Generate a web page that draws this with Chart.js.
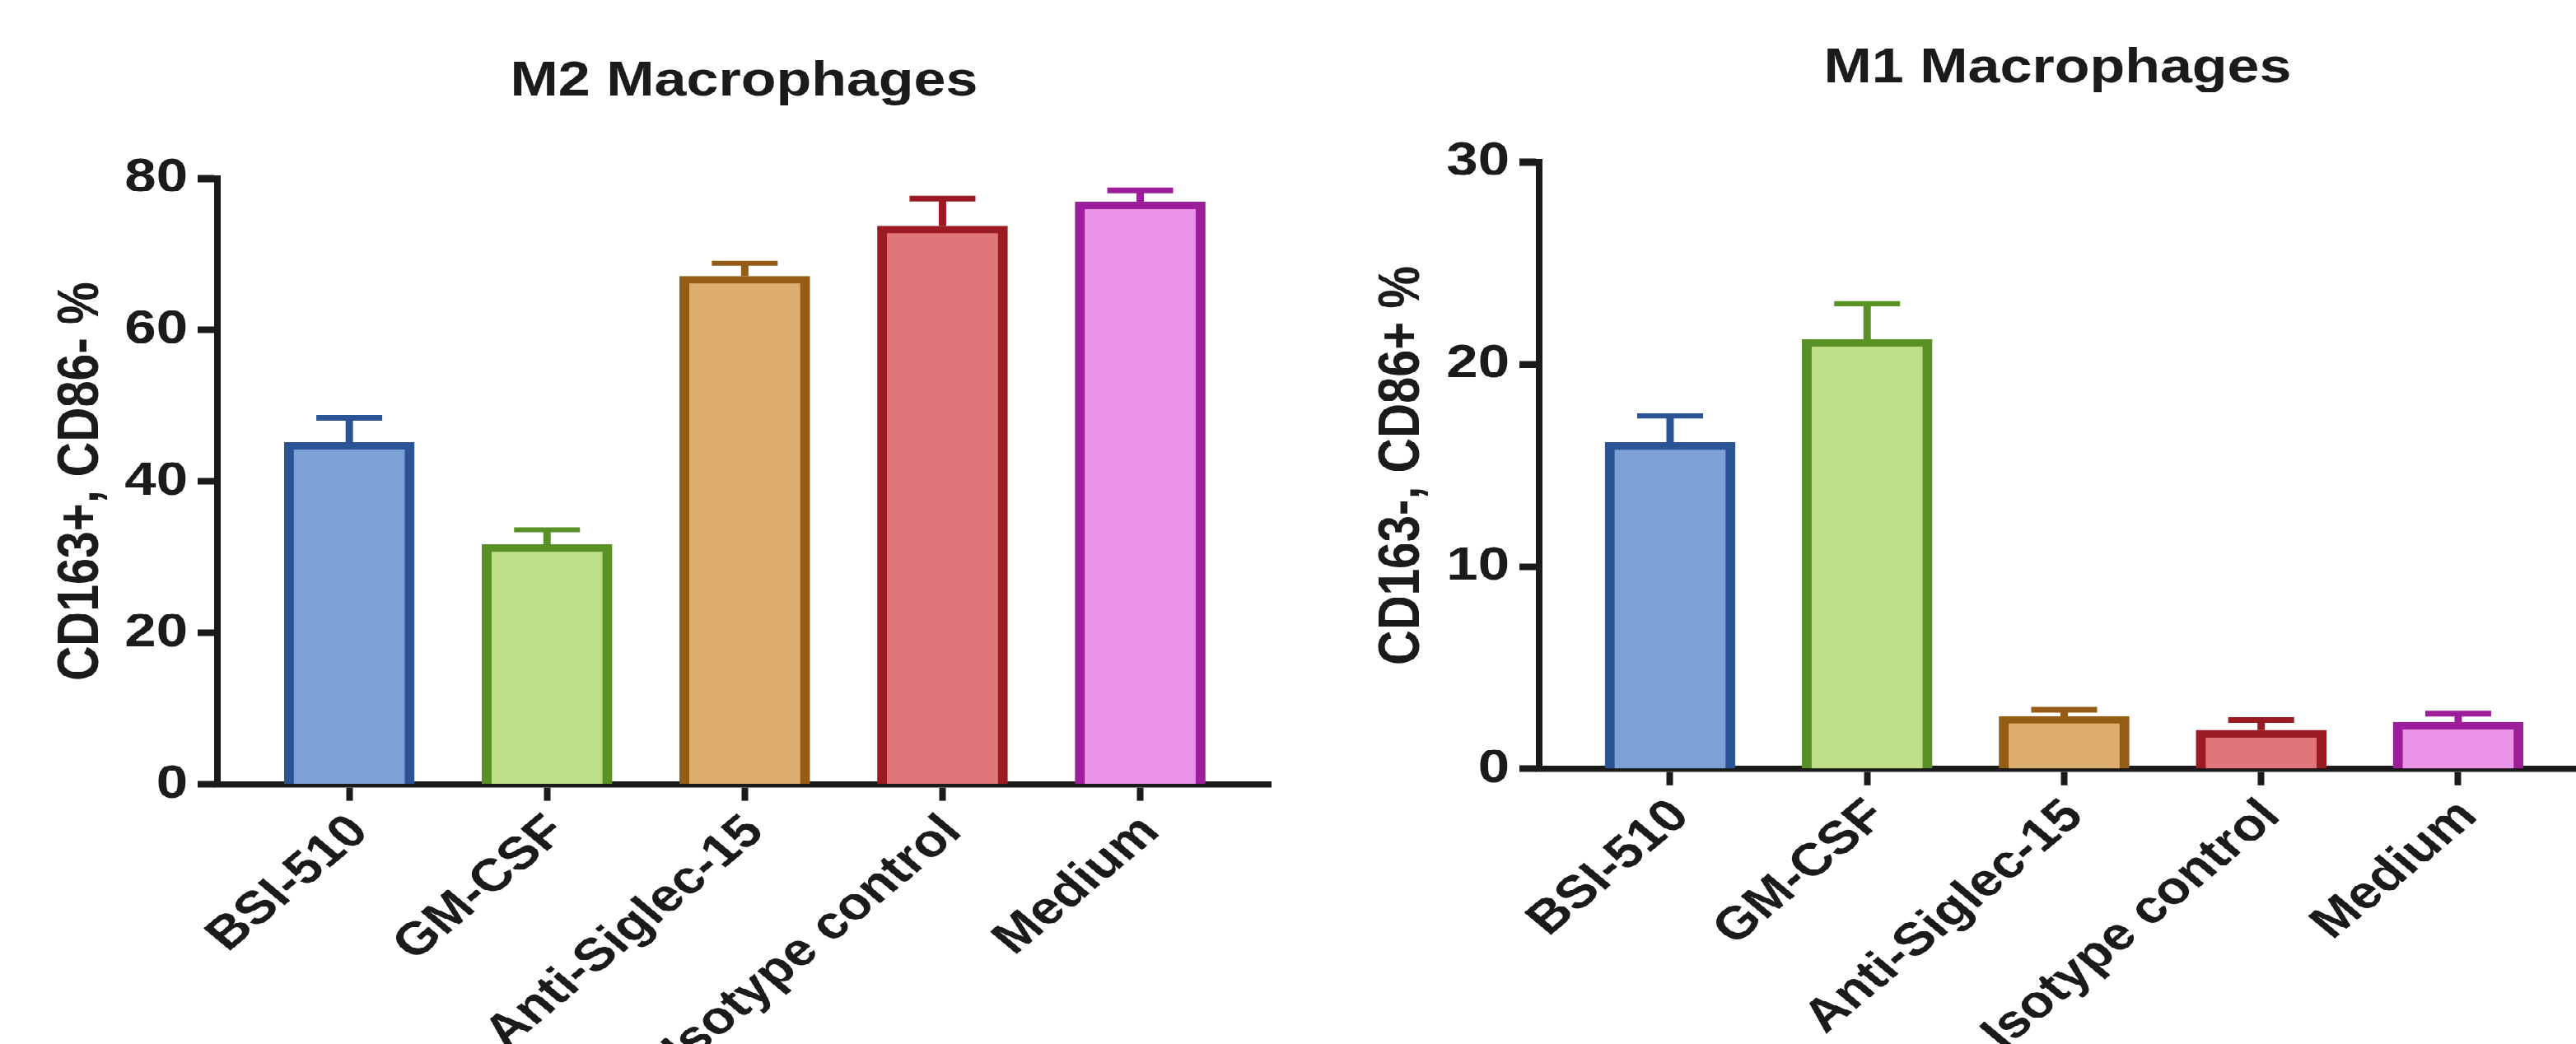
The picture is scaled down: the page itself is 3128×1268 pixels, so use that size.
<!DOCTYPE html>
<html><head><meta charset="utf-8">
<script src="https://cdn.jsdelivr.net/npm/chart.js@4.4.1/dist/chart.umd.min.js"></script>
<style>
html,body{margin:0;padding:0;background:#fff;overflow:hidden;width:3128px;height:1268px;}
#wrap{position:absolute;left:0;top:0;width:3128px;height:1522px;transform:scaleY(0.833114);transform-origin:0 0;}
canvas{position:absolute;top:0;}
#c1{left:0}
#c2{left:1568px}
</style></head><body>
<div id="wrap"><canvas id="c1" width="1568" height="1522"></canvas><canvas id="c2" width="1560" height="1522"></canvas></div>
<script>
// ---- data ----
const categories = ['BSI-510', 'GM-CSF', 'Anti-Siglec-15', 'Isotype control', 'Medium'];
const m2Mean = [45.2, 31.7, 67.1, 73.7, 76.9];
const m2Err  = [3.2, 1.9, 1.7, 3.6, 1.5];
const m1Mean = [16.15, 21.25, 2.6, 1.9, 2.3];
const m1Err  = [1.3, 1.75, 0.33, 0.5, 0.43];
const m2Ticks = [0, 20, 40, 60, 80];
const m1Ticks = [0, 10, 20, 30];
const m2Title = 'M2 Macrophages';
const m1Title = 'M1 Macrophages';
const m2YLabel = 'CD163+, CD86- %';
const m1YLabel = 'CD163-, CD86+ %';

// ---- styles ----
const fillColors   = ['#7DA1D5', '#BEDE88', '#DDAE70', '#E0767A', '#EA93E8'];
const borderColors = ['#2B5494', '#5A9126', '#955C16', '#9B1B23', '#9C1E9A'];
const INK = '#1b1b1b';
const FONT = "'Liberation Sans', Arial, Helvetica, sans-serif";

const errorBars = {
  id: 'errorBars',
  afterDatasetsDraw(chart, args, opts) {
    const ctx = chart.ctx, yS = chart.scales.y;
    chart.data.datasets.forEach((ds, di) => {
      const meta = chart.getDatasetMeta(di);
      meta.data.forEach((bar, i) => {
        const top = yS.getPixelForValue(ds.data[i].y + ds.errors[i]);
        ctx.save();
        ctx.strokeStyle = ds.borderColor[i];
        ctx.lineCap = 'butt';
        ctx.lineWidth = opts.stemWidth;
        ctx.beginPath(); ctx.moveTo(bar.x, bar.y); ctx.lineTo(bar.x, top); ctx.stroke();
        ctx.lineWidth = opts.capWidth;
        ctx.beginPath(); ctx.moveTo(bar.x - opts.capHalf, top); ctx.lineTo(bar.x + opts.capHalf, top); ctx.stroke();
        ctx.restore();
      });
    });
  }
};

function makeChart(id, cfg) {
  const ticksArr = cfg.ticks;
  return new Chart(document.getElementById(id), {
    type: 'bar',
    data: {
      datasets: [{
        data: cfg.mean.map((v, i) => ({ x: i, y: v })),
        errors: cfg.err,
        backgroundColor: fillColors,
        borderColor: borderColors,
        borderWidth: { top: 11, left: 12, right: 12, bottom: 0 },
        borderSkipped: 'start',
        barThickness: 158
      }]
    },
    options: {
      responsive: false,
      animation: false,
      devicePixelRatio: 1,
      layout: { padding: { top: cfg.padTop, right: cfg.padRight, bottom: 0, left: 0 } },
      plugins: {
        legend: { display: false },
        tooltip: { enabled: false },
        title: {
          display: true, text: cfg.title, color: INK, fullSize: false,
          font: { family: FONT, size: 70, weight: 'bold', lineHeight: 1 },
          padding: { top: 0, bottom: cfg.titleGap }
        },
        errorBars: { stemWidth: 9, capWidth: 8, capHalf: 40 }
      },
      scales: {
        x: {
          type: 'linear', offset: false, min: cfg.xMin, max: cfg.xMax, z: 1,
          afterBuildTicks: s => { s.ticks = categories.map((c, i) => ({ value: i })); },
          afterFit: s => { s.height = cfg.xHeight; },
          grid: { display: true, drawOnChartArea: false, drawTicks: true, tickLength: 24, tickWidth: 8, tickColor: INK, offset: false },
          border: { display: true, color: INK, width: 9.6 },
          ticks: {
            autoSkip: false, minRotation: 45, maxRotation: 45, padding: 6, labelOffset: 13, color: INK,
            font: { family: FONT, size: 67, weight: 'bold' },
            callback: v => categories[v]
          }
        },
        y: {
          min: 0, max: ticksArr[ticksArr.length - 1], z: 1,
          afterBuildTicks: s => { s.ticks = ticksArr.map(v => ({ value: v })); },
          afterFit: s => { s.width = cfg.yWidth; },
          grid: { display: true, drawOnChartArea: false, drawTicks: true, tickLength: 24, tickWidth: 10, tickColor: INK },
          border: { display: true, color: INK, width: 8 },
          ticks: { padding: 12, color: INK, font: { family: FONT, size: 69, weight: 'bold' } },
          title: {
            display: true, text: cfg.yLabel, color: INK,
            font: { family: FONT, size: 70, weight: 'bold', lineHeight: 1.2 },
            padding: { top: cfg.yTitlePad, bottom: 0 }
          }
        }
      }
    },
    plugins: [errorBars]
  });
}

makeChart('c1', {
  mean: m2Mean, err: m2Err, ticks: m2Ticks, title: m2Title, yLabel: m2YLabel,
  padTop: 85, padRight: 25, titleGap: 105, xHeight: 378.4, yWidth: 264, yTitlePad: 58,
  xMin: -0.667, xMax: 4.66
});
makeChart('c2', {
  mean: m1Mean, err: m1Err, ticks: m1Ticks, title: m1Title, yLabel: m1YLabel,
  padTop: 66, padRight: 0, titleGap: 100.4, xHeight: 401.2, yWidth: 301, yTitlePad: 94,
  xMin: -0.6645, xMax: 4.598
});
</script>
</body></html>
